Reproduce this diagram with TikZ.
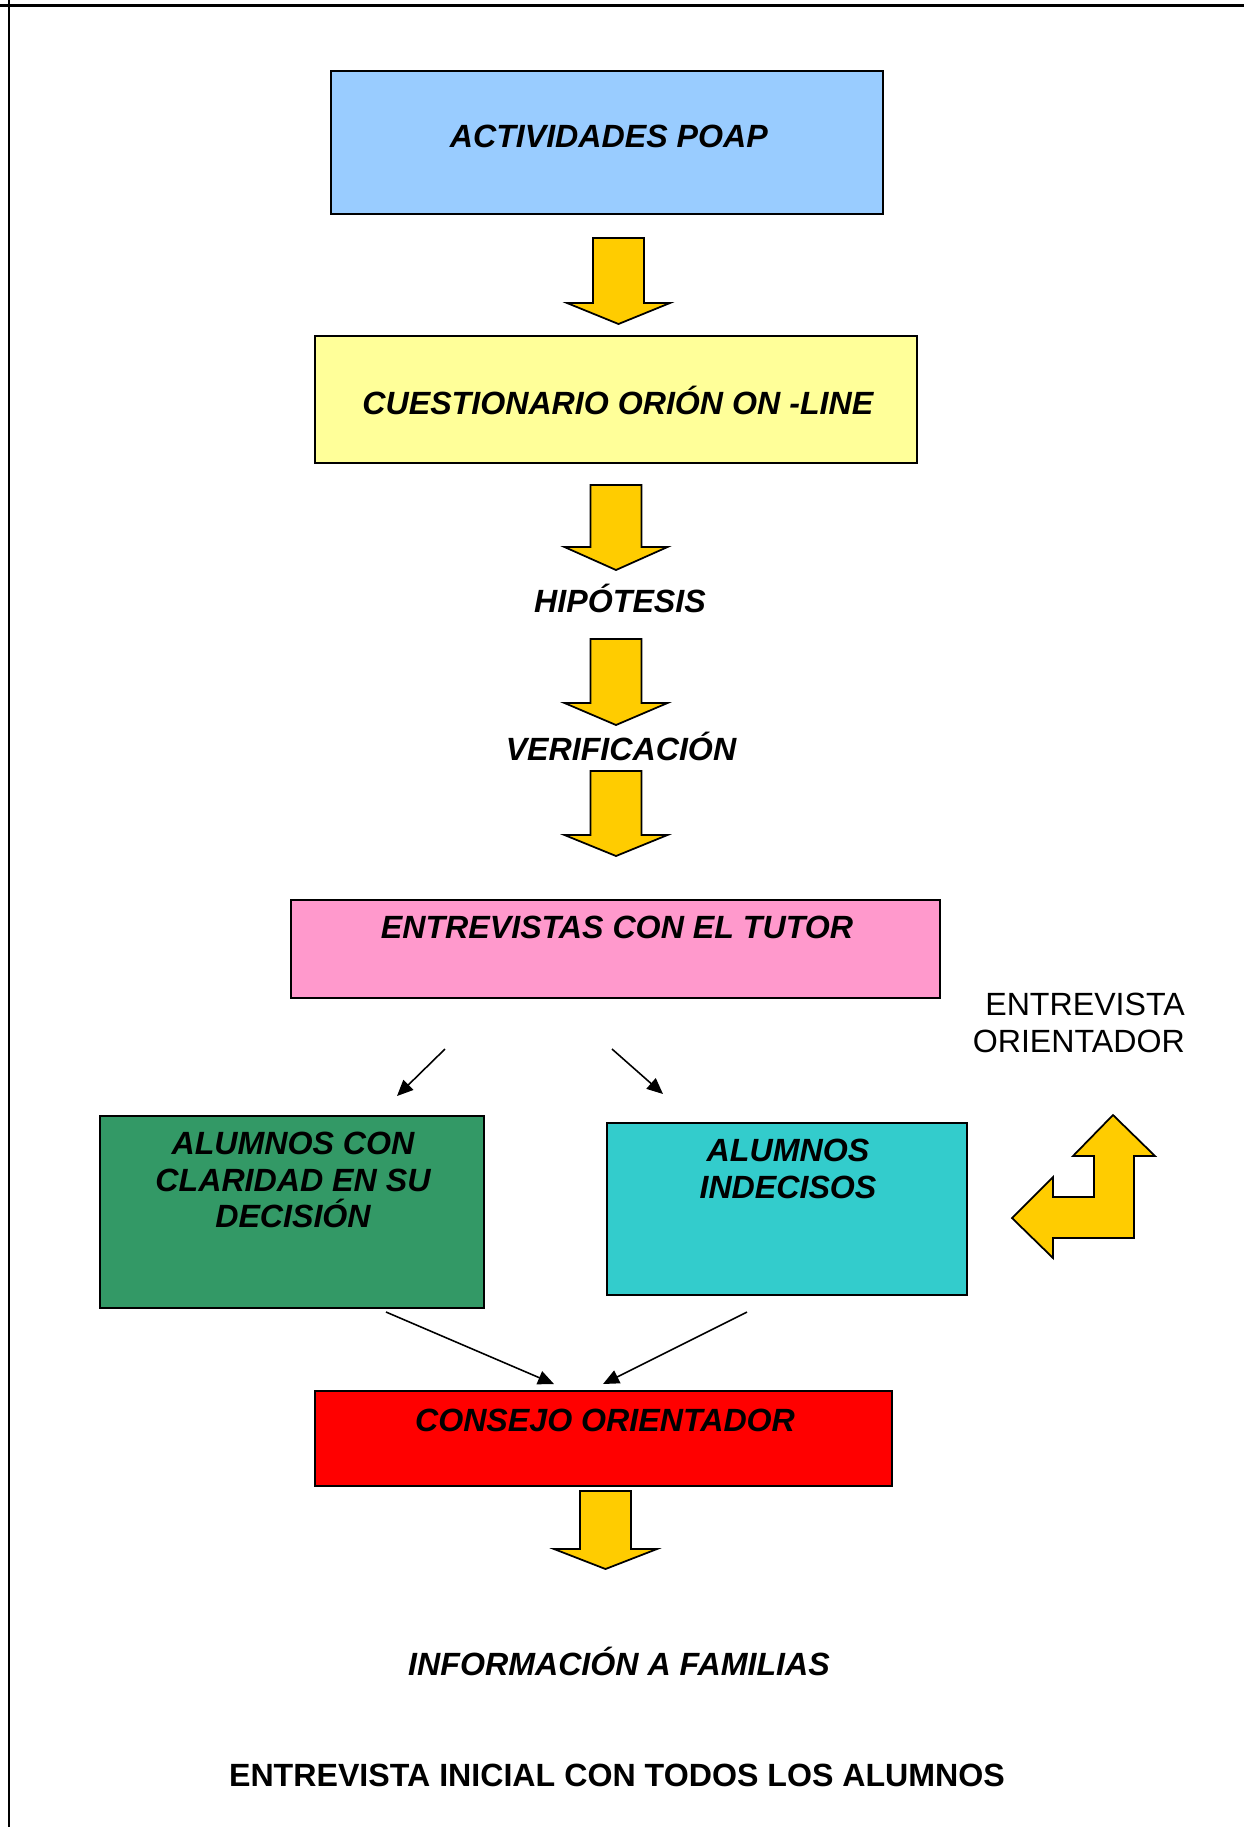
\documentclass[tikz,border=0pt]{standalone}
\usepackage{fontspec}
\setmainfont{Liberation Sans}
\usetikzlibrary{positioning,calc,arrows.meta}

\definecolor{azulpoap}{HTML}{99CCFF}
\definecolor{amarilloclaro}{HTML}{FFFF99}
\definecolor{rosa}{HTML}{FF99CC}
\definecolor{verde}{HTML}{339966}
\definecolor{turquesa}{HTML}{33CCCC}
\definecolor{rojo}{HTML}{FF0000}
\definecolor{amarillo}{HTML}{FFCC00}

\tikzset{
  caja/.style={draw=black, line width=1pt, inner sep=0pt, anchor=north west},
  titulo/.style={font=\fontsize{18.3}{21}\selectfont\bfseries\itshape, align=center},
  flechagorda/.style={draw=black, line width=1pt, fill=amarillo, line join=miter},
  flechita/.style={line width=0.9pt, -{Triangle[length=0.32cm,width=0.28cm]}},
}

% x, top, base of head, tip
\newcommand{\flechaamarilla}[4]{%
  \draw[flechagorda] (#1-25.5,#2) -- (#1+25.5,#2) -- (#1+25.5,#3) -- (#1+51.5,#3)
    -- (#1,#4) -- (#1-51.5,#3) -- (#1-25.5,#3) -- cycle;}

\begin{document}
\begin{tikzpicture}[x=0.02cm, y=-0.02cm]
    \useasboundingbox (0,0) rectangle (1244,1827);
    \draw[line width=1.7pt] (0,5) -- (1244,5);
    \draw[line width=1.1pt] (9,0) -- (9,1827);

    \node[caja, fill=azulpoap, minimum width=11.04cm, minimum height=2.86cm] (poap) at (330,70) {};
    \node[titulo] at ($(poap.center)+(2,-6)$) {ACTIVIDADES POAP};
    \flechaamarilla{618.5}{238}{303}{324}

    \node[caja, fill=amarilloclaro, minimum width=12.04cm, minimum height=2.54cm] (orion) at (314,335) {};
    \node[titulo] at ($(orion.center)+(2,1)$) {CUESTIONARIO ORIÓN ON -LINE};
    \flechaamarilla{616}{485}{547}{570}

    \node[titulo] (hipo) at (620,598) {HIPÓTESIS};
    \flechaamarilla{616}{639}{703}{725}
    \node[titulo] (veri) at (621,746) {VERIFICACIÓN};
    \flechaamarilla{616}{771}{835}{856}

    \node[caja, fill=rosa, minimum width=12.98cm, minimum height=1.96cm] (tutor) at (290,899) {};
    \node[titulo] at (617,927) {ENTREVISTAS CON EL TUTOR};

    \node[font=\fontsize{18.3}{21}\selectfont, align=right, anchor=east] (orient) at (1191,1023) {ENTREVISTA\\ORIENTADOR};

    \coordinate (a1) at (445,1049);
    \coordinate (a2) at (397,1096);
    \coordinate (b1) at (612,1049);
    \coordinate (b2) at (663,1094);
    \draw[flechita] (a1) -- (a2);
    \draw[flechita] (b1) -- (b2);

    \node[caja, fill=verde, minimum width=7.68cm, minimum height=3.84cm] (claros) at (99,1115) {};
    \node[titulo] at (293,1180) {ALUMNOS CON\\CLARIDAD EN SU\\DECISIÓN};
    \node[caja, fill=turquesa, minimum width=7.2cm, minimum height=3.44cm] (indecisos) at (606,1122) {};
    \node[titulo] at (788,1169) {ALUMNOS\\INDECISOS};

    \draw[flechagorda] (1113,1115) -- (1155,1156) -- (1134,1156) -- (1134,1238) -- (1053,1238)
      -- (1053,1258) -- (1012,1218) -- (1053,1177) -- (1053,1197) -- (1094,1197)
      -- (1094,1156) -- (1073,1156) -- cycle;

    \coordinate (c1) at (386,1312);
    \coordinate (c2) at (554,1384);
    \coordinate (d1) at (747,1312);
    \coordinate (d2) at (603,1384);
    \draw[flechita] (c1) -- (c2);
    \draw[flechita] (d1) -- (d2);

    \node[caja, fill=rojo, minimum width=11.54cm, minimum height=1.9cm] (consejo) at (314,1390) {};
    \node[titulo] at (605,1420) {CONSEJO ORIENTADOR};
    \flechaamarilla{605.5}{1491}{1549}{1569}

    \node[titulo] (familias) at (619,1661) {INFORMACIÓN A FAMILIAS};
    \node[font=\fontsize{18.3}{21}\selectfont\bfseries] (inicial) at (617,1775) {ENTREVISTA INICIAL CON TODOS LOS ALUMNOS};
\end{tikzpicture}
\end{document}
